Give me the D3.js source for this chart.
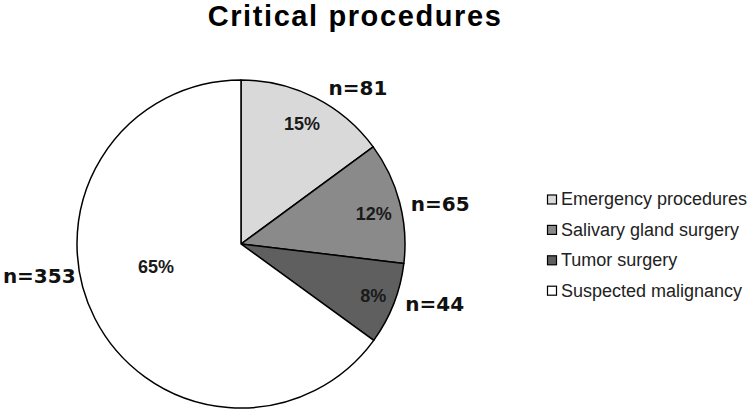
<!DOCTYPE html>
<html lang="en">
<head>
    <meta charset="UTF-8">
    <title>Critical procedures</title>
    <script src="https://d3js.org/d3.v7.min.js"></script>
    <style>
        body { margin: 0; background: #fff; }
    </style>
</head>
<body>
<script>

    // data
    var categories = ['Emergency procedures', 'Salivary gland surgery', 'Tumor surgery', 'Suspected malignancy'];
    var counts = [81, 65, 44, 353];
    var percentLabels = ['15%', '12%', '8%', '65%'];
    var countLabels = ['n=81', 'n=65', 'n=44', 'n=353'];
    var colors = ['#d9d9d9', '#8a8a8a', '#5f5f5f', '#ffffff'];

    var width = 749, height = 413;
    var cx = 241, cy = 244, radius = 164;

    // small tweaks for the labels (Excel "best fit" moves some)
    var pctRadius = [135, 136, 142, 88];
    var pctAngleShift = [0, 2, 0, 12];
    var nAngleShift = [3, 2, -2, 17];

    var svg = d3.select('body')
        .append('svg')
        .attr('width', width)
        .attr('height', height);

    svg.append('text')
        .attr('x', 355)
        .attr('y', 26)
        .attr('text-anchor', 'middle')
        .style('font-family', 'Liberation Sans, Arial, sans-serif')
        .style('font-weight', 'bold')
        .style('font-size', '29px')
        .style('letter-spacing', '1.6px')
        .text('Critical procedures');

    var pie = d3.pie().sort(null).value(function(d) { return d; });
    var arcs = pie(counts);

    var arc = d3.arc().innerRadius(0).outerRadius(radius);

    var g = svg.append('g')
        .attr('transform', 'translate(' + cx + ',' + cy + ')');

    g.selectAll('path')
        .data(arcs)
        .enter()
            .append('path')
            .attr('d', arc)
            .attr('fill', function(d, i) { return colors[i]; })
            .attr('stroke', '#000')
            .attr('stroke-width', 1.5)
            .attr('stroke-linejoin', 'round');

    function mid(d) { return (d.startAngle + d.endAngle) / 2; }
    var rad = Math.PI / 180;

    // percent labels inside
    g.selectAll('text.pct')
        .data(arcs)
        .enter()
            .append('text')
            .attr('class', 'pct')
            .attr('x', function(d, i) { return pctRadius[i] * Math.sin(mid(d) + pctAngleShift[i] * rad); })
            .attr('y', function(d, i) { return -pctRadius[i] * Math.cos(mid(d) + pctAngleShift[i] * rad); })
            .attr('dy', '0.36em')
            .attr('text-anchor', 'middle')
            .style('font-family', 'Liberation Sans, Arial, sans-serif')
            .style('font-weight', 'bold')
            .style('font-size', '18px')
            .style('fill', '#1a1a1a')
            .text(function(d, i) { return percentLabels[i]; });

    // n= labels outside
    var nR = 172, boxH = 16;
    g.selectAll('text.n')
        .data(arcs)
        .enter()
            .append('text')
            .attr('class', 'n')
            .each(function(d, i) {
                var a = mid(d) + nAngleShift[i] * rad;
                var px = nR * Math.sin(a), py = -nR * Math.cos(a);
                var top = py - boxH * (1 + Math.cos(a)) / 2;
                d3.select(this)
                    .attr('x', Math.sin(a) >= 0 ? px + 2 : px + 4)
                    .attr('y', top + boxH / 2)
                    .attr('text-anchor', Math.sin(a) >= 0 ? 'start' : 'end');
            })
            .attr('dy', '0.36em')
            .style('font-family', 'DejaVu Sans, Verdana, sans-serif')
            .style('font-weight', 'bold')
            .style('font-size', '20px')
            .style('fill', '#111')
            .text(function(d, i) { return countLabels[i]; });

    // legend
    var legend = svg.append('g')
        .attr('transform', 'translate(547, 199)');

    var item = legend.selectAll('g')
        .data(categories)
        .enter()
            .append('g')
            .attr('transform', function(d, i) { return 'translate(0,' + (i * 30.4) + ')'; });

    item.append('rect')
        .attr('x', 0.5)
        .attr('y', -4)
        .attr('width', 9)
        .attr('height', 9)
        .attr('fill', function(d, i) { return colors[i]; })
        .attr('stroke', '#000')
        .attr('stroke-width', 1.2);

    item.append('text')
        .attr('x', 14)
        .attr('y', 0)
        .attr('dy', '0.36em')
        .style('font-family', 'Liberation Sans, Arial, sans-serif')
        .style('font-size', '18px')
        .style('fill', '#222')
        .text(function(d) { return d; });

</script>
</body>
</html>
